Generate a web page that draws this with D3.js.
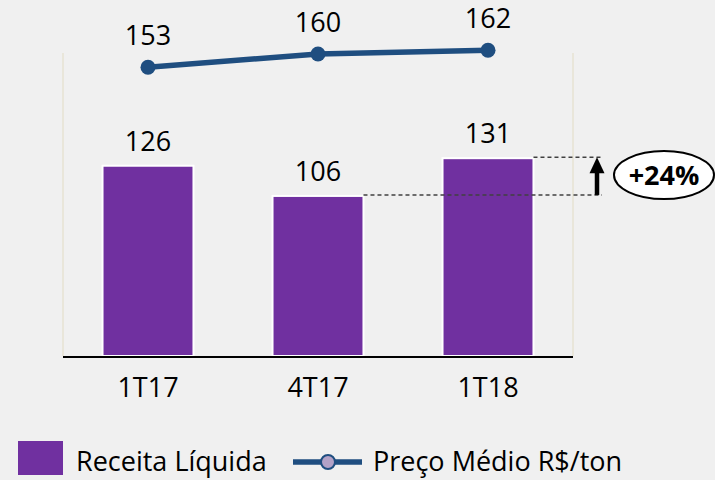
<!DOCTYPE html>
<html lang="pt">
  <head>
    <meta charset="UTF-8" />
    <title>Receita Líquida x Preço Médio</title>
    <script src="https://d3js.org/d3.v7.min.js"></script>
    <style>
      html, body { margin: 0; padding: 0; background: #f0f0f0; }
      svg { display: block; font-family: "Open Sans", sans-serif; }
    </style>
  </head>
  <body>
    <div id="chart"></div>
    <script>
      const periods = ["1T17", "4T17", "1T18"];
      const receita = [126, 106, 131];
      const preco = [153, 160, 162];
      const seriesNames = ["Receita Líquida", "Preço Médio R$/ton"];
      const growthLabel = "+24%";

      const width = 715;
      const height = 480;
      const purple = "#7030a0";
      const blue = "#1f4e80";

      const svg = d3
        .select("#chart")
        .append("svg")
        .attr("width", width)
        .attr("height", height);

      const x = d3
        .scaleBand()
        .domain(periods)
        .range([63, 573])
        .paddingInner(0.465)
        .paddingOuter(0.2325);

      const y = d3.scaleLinear().domain([0, 200]).range([356, 54]);
      const y2 = d3.scaleLinear().domain([0, 160]).range([356, 54]);

      // faint side borders of the plot area
      svg
        .selectAll("line.side")
        .data([63, 573])
        .enter()
        .append("line")
        .attr("class", "side")
        .attr("x1", (d) => d)
        .attr("x2", (d) => d)
        .attr("y1", 53)
        .attr("y2", 356)
        .attr("stroke", "#e9e6da")
        .attr("stroke-width", 2);

      // bars
      svg
        .selectAll("rect.bar")
        .data(receita)
        .enter()
        .append("rect")
        .attr("class", "bar")
        .attr("x", (d, i) => x(periods[i]))
        .attr("y", (d) => y(d))
        .attr("width", x.bandwidth())
        .attr("height", (d) => y(0) - y(d))
        .attr("fill", purple)
        .attr("stroke", "#ffffff")
        .attr("stroke-width", 2);

      svg
        .selectAll("text.barval")
        .data(receita)
        .enter()
        .append("text")
        .attr("class", "barval")
        .attr("x", (d, i) => x(periods[i]) + x.bandwidth() / 2)
        .attr("y", (d) => y(d) - 15)
        .attr("text-anchor", "middle")
        .attr("font-size", 27)
        .attr("fill", "#000")
        .text((d) => d);

      // baseline
      svg
        .append("line")
        .attr("x1", 63)
        .attr("x2", 573)
        .attr("y1", y(0) + 1)
        .attr("y2", y(0) + 1)
        .attr("stroke", "#000")
        .attr("stroke-width", 2);

      // x axis labels
      const xAxis = svg
        .append("g")
        .attr("transform", `translate(0,${y(0)})`)
        .call(d3.axisBottom(x).tickSize(0).tickPadding(22));
      xAxis.select(".domain").remove();
      xAxis
        .selectAll("text")
        .attr("font-size", 27)
        .attr("font-family", "Open Sans, sans-serif")
        .attr("fill", "#000")
        .attr("dy", "0.71em");

      // price line
      const cx = (i) => x(periods[i]) + x.bandwidth() / 2;
      const line = d3
        .line()
        .x((d, i) => cx(i))
        .y((d) => y2(d));

      svg
        .append("path")
        .datum(preco)
        .attr("d", line)
        .attr("fill", "none")
        .attr("stroke", blue)
        .attr("stroke-width", 5.5);

      svg
        .selectAll("circle.pt")
        .data(preco)
        .enter()
        .append("circle")
        .attr("class", "pt")
        .attr("cx", (d, i) => cx(i))
        .attr("cy", (d) => y2(d))
        .attr("r", 7.5)
        .attr("fill", blue);

      svg
        .selectAll("text.ptval")
        .data(preco)
        .enter()
        .append("text")
        .attr("class", "ptval")
        .attr("x", (d, i) => cx(i))
        .attr("y", (d) => y2(d) - 22)
        .attr("text-anchor", "middle")
        .attr("font-size", 27)
        .attr("fill", "#000")
        .text((d) => d);

      // growth annotation
      const topY = y(receita[2]) - 1;
      const lowY = y(receita[1]) - 1;
      const dashEnd = 602;
      svg
        .selectAll("line.dash")
        .data([
          { x0: x(periods[2]) + x.bandwidth(), yy: topY },
          { x0: x(periods[1]) + x.bandwidth(), yy: lowY },
        ])
        .enter()
        .append("line")
        .attr("class", "dash")
        .attr("x1", (d) => d.x0)
        .attr("x2", dashEnd)
        .attr("y1", (d) => d.yy)
        .attr("y2", (d) => d.yy)
        .attr("stroke", "#404040")
        .attr("stroke-width", 1.5)
        .attr("stroke-dasharray", "4,3");

      const ax = 597;
      svg
        .append("line")
        .attr("x1", ax)
        .attr("x2", ax)
        .attr("y1", lowY)
        .attr("y2", topY + 14)
        .attr("stroke", "#000")
        .attr("stroke-width", 4.5);
      svg
        .append("path")
        .attr("d", `M${ax},${topY} L${ax - 7.5},${topY + 16} L${ax + 7.5},${topY + 16} Z`)
        .attr("fill", "#000");

      svg
        .append("ellipse")
        .attr("cx", 664)
        .attr("cy", (topY + lowY) / 2 - 1)
        .attr("rx", 50)
        .attr("ry", 24)
        .attr("fill", "#fff")
        .attr("stroke", "#000")
        .attr("stroke-width", 2);
      svg
        .append("text")
        .attr("x", 664)
        .attr("y", (topY + lowY) / 2 + 9)
        .attr("text-anchor", "middle")
        .attr("font-size", 27)
        .attr("font-weight", "bold")
        .attr("fill", "#000")
        .text(growthLabel);

      // legend
      const legend = svg.append("g");
      legend
        .append("rect")
        .attr("x", 18)
        .attr("y", 441)
        .attr("width", 45)
        .attr("height", 34)
        .attr("fill", purple);
      legend
        .append("text")
        .attr("x", 76)
        .attr("y", 471)
        .attr("font-size", 27)
        .attr("fill", "#000")
        .text(seriesNames[0]);
      legend
        .append("line")
        .attr("x1", 293)
        .attr("x2", 362)
        .attr("y1", 462)
        .attr("y2", 462)
        .attr("stroke", blue)
        .attr("stroke-width", 5.5);
      legend
        .append("circle")
        .attr("cx", 328)
        .attr("cy", 462)
        .attr("r", 7)
        .attr("fill", "#b3a2c7")
        .attr("stroke", blue)
        .attr("stroke-width", 2);
      legend
        .append("text")
        .attr("x", 373)
        .attr("y", 471)
        .attr("font-size", 27)
        .attr("fill", "#000")
        .text(seriesNames[1]);
    </script>
  </body>
</html>
